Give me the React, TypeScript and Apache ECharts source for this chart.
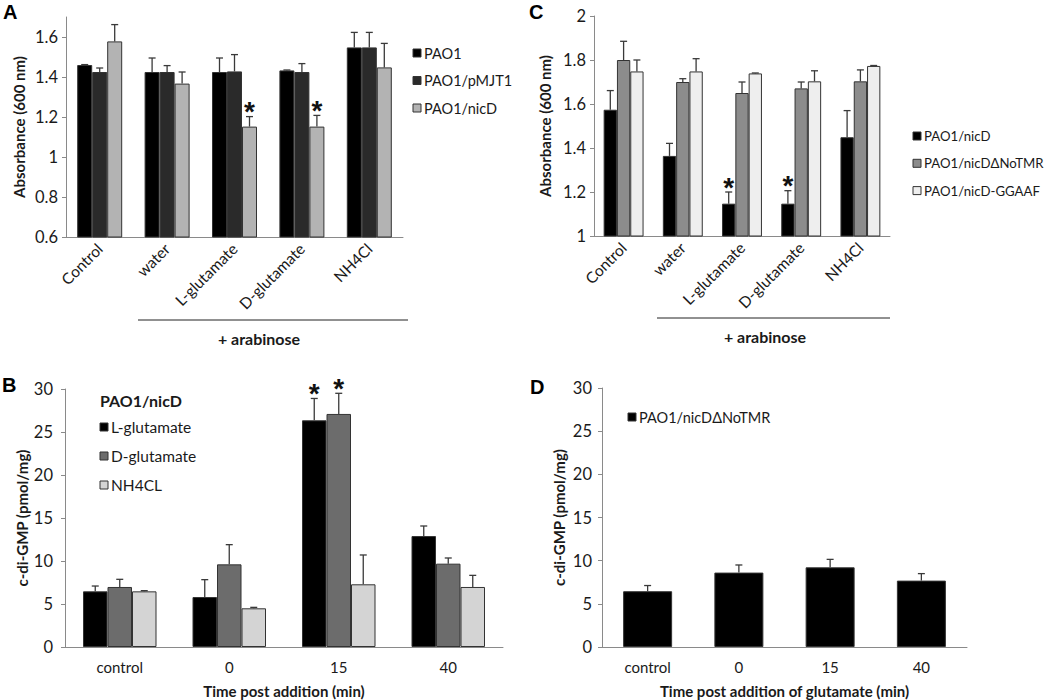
import React, { useEffect, useRef } from "react";
import * as echarts from "echarts";

// ---------- data ----------
const treatCats = ["Control", "water", "L-glutamate", "D-glutamate", "NH4Cl"];
const timeCats = ["control", "0", "15", "40"];

// Panel A
const namesA = ["PAO1", "PAO1/pMJT1", "PAO1/nicD"];
const aPAO1 = [1.46, 1.425, 1.425, 1.433, 1.548];
const aPAO1Err = [0.002, 0.07, 0.07, 0.002, 0.075];
const aPMJT1 = [1.425, 1.425, 1.428, 1.425, 1.548];
const aPMJT1Err = [0.02, 0.032, 0.084, 0.042, 0.075];
const aNicD = [1.578, 1.367, 1.152, 1.152, 1.448];
const aNicDErr = [0.084, 0.058, 0.05, 0.056, 0.12];
const aNicDSig = [0, 0, 1, 1, 0];
const aTicks = [0.6, 0.8, 1, 1.2, 1.4, 1.6];

// Panel C
const namesC = ["PAO1/nicD", "PAO1/nicDΔNoTMR", "PAO1/nicD-GGAAF"];
const cNicD = [1.574, 1.364, 1.147, 1.147, 1.449];
const cNicDErr = [0.087, 0.057, 0.053, 0.059, 0.121];
const cNicDSig = [0, 0, 1, 1, 0];
const cNoTMR = [1.8, 1.7, 1.65, 1.671, 1.703];
const cNoTMRErr = [0.085, 0.015, 0.05, 0.029, 0.052];
const cGGAAF = [1.748, 1.748, 1.739, 1.703, 1.773];
const cGGAAFErr = [0.052, 0.058, 0.002, 0.048, 0.002];

// Panel B
const legendTitleB = "PAO1/nicD";
const namesB = ["L-glutamate", "D-glutamate", "NH4CL"];
const bL = [6.47, 5.81, 26.36, 12.9];
const bLErr = [0.62, 2.02, 2.54, 1.17];
const bLSig = [0, 0, 1, 0];
const bD = [6.98, 9.61, 27.1, 9.69];
const bDErr = [0.89, 2.29, 2.4, 0.66];
const bDSig = [0, 0, 1, 0];
const bN = [6.47, 4.5, 7.29, 6.98];
const bNErr = [0.08, 0.11, 3.41, 1.35];

// Panel D
const namesD = ["PAO1/nicDΔNoTMR"];
const dNoTMR = [6.46, 8.62, 9.23, 7.69];
const dNoTMRErr = [0.66, 0.88, 0.92, 0.81];

// ---------- styles ----------
const FONT = 'Lato, "Open Sans", sans-serif';
const AXIS_COLOR = "#8a8a8a";
const TEXT_COLOR = "#1a1a1a";
const colorsA = ["#000000", "#2a2a2a", "#b3b3b3"];
const colorsC = ["#000000", "#8c8c8c", "#eeeeee"];
const colorsB = ["#000000", "#6c6c6c", "#d4d4d4"];
const colorsD = ["#000000"];

function barSeries(name: string, data: number[], color: string, g: number, bw: number) {
  return {
    type: "bar",
    name,
    data,
    xAxisIndex: g,
    yAxisIndex: g,
    barWidth: bw,
    barGap: "0%",
    silent: true,
    itemStyle: { color, borderColor: "#333", borderWidth: 1 },
  };
}

function errSeries(values: number[], errs: number[], sigs: number[] | null, idx: number, n: number, bw: number, g: number) {
  const offset = (idx - (n - 1) / 2) * bw;
  return {
    type: "custom",
    xAxisIndex: g,
    yAxisIndex: g,
    z: 5,
    silent: true,
    data: values.map((v, i) => [i, v, errs[i], sigs ? sigs[i] : 0]),
    encode: { x: 0, y: 1 },
    renderItem: (params: any, api: any) => {
      const i = api.value(0);
      const v = api.value(1);
      const e = api.value(2);
      const s = api.value(3);
      const p = api.coord([i, v]);
      const t = api.coord([i, v + e]);
      const cx = p[0] + offset;
      const st = { stroke: "#3a3a3a", lineWidth: 1.3 };
      const children: any[] = [
        { type: "line", shape: { x1: cx, y1: p[1], x2: cx, y2: t[1] }, style: st },
        { type: "line", shape: { x1: cx - 3.5, y1: t[1], x2: cx + 3.5, y2: t[1] }, style: st },
      ];
      if (s) {
        children.push({
          type: "text",
          x: cx,
          y: t[1] - 5,
          style: {
            text: "*",
            font: 'bold 28px "Liberation Sans"',
            fill: "#111",
            textAlign: "center",
            textVerticalAlign: "middle",
          },
        });
      }
      return { type: "group", children };
    },
  };
}

function legendGraphic(x: number, y0: number, pitch: number, names: string[], colors: string[], fs: number) {
  const out: any[] = [];
  names.forEach((nm, i) => {
    const y = y0 + i * pitch;
    out.push({
      type: "rect",
      shape: { x: x, y: y - 4, width: 8, height: 8 },
      style: { fill: colors[i], stroke: "#333", lineWidth: 1 },
    });
    out.push({
      type: "text",
      x: x + 11,
      y: y,
      style: { text: nm, font: `${fs}px ${FONT}`, fill: TEXT_COLOR, textVerticalAlign: "middle" },
    });
  });
  return out;
}

function catX(g: number, data: string[], rotated: boolean, name?: string) {
  return {
    type: "category",
    gridIndex: g,
    data,
    axisLine: { lineStyle: { color: AXIS_COLOR } },
    axisTick: { length: 5, lineStyle: { color: AXIS_COLOR } },
    axisLabel: rotated
      ? { rotate: 45, fontSize: 15.5, color: TEXT_COLOR, fontFamily: FONT, margin: 9, interval: 0 }
      : { fontSize: 15, color: TEXT_COLOR, fontFamily: FONT, margin: 12, interval: 0 },
    name: name || "",
    nameLocation: "middle",
    nameGap: 36,
    nameTextStyle: { fontWeight: "bold", fontSize: 15, fontFamily: FONT, color: TEXT_COLOR },
  };
}

function valY(g: number, min: number, max: number, interval: number, name: string, nameGap: number, extra: any = {}) {
  return {
    type: "value",
    gridIndex: g,
    min,
    max,
    interval,
    splitLine: { show: false },
    axisLine: { show: true, lineStyle: { color: AXIS_COLOR } },
    axisTick: { show: true, length: 4, lineStyle: { color: AXIS_COLOR }, ...(extra.tick || {}) },
    axisLabel: {
      fontSize: 16.5,
      color: TEXT_COLOR,
      fontFamily: FONT,
      margin: 8,
      formatter: (v: number) => String(Math.round(v * 10) / 10),
      ...(extra.label || {}),
    },
    name,
    nameLocation: "middle",
    nameGap,
    nameTextStyle: { fontWeight: "bold", fontSize: 15, fontFamily: FONT, color: TEXT_COLOR },
  };
}

export default function App() {
  const ref = useRef<HTMLDivElement>(null);
  useEffect(() => {
    if (!ref.current) return;
    const chart = echarts.init(ref.current, null, { renderer: "svg" });

    const bwA = 15, bwC = 13.3, bwB = 24.5, bwD = 49;
    const series: any[] = [];
    const aVals = [aPAO1, aPMJT1, aNicD];
    const aErrs = [aPAO1Err, aPMJT1Err, aNicDErr];
    const aSigs = [null, null, aNicDSig];
    aVals.forEach((v, i) => series.push(barSeries(namesA[i], v, colorsA[i], 0, bwA)));
    aVals.forEach((v, i) => series.push(errSeries(v, aErrs[i], aSigs[i], i, 3, bwA, 0)));

    const cVals = [cNicD, cNoTMR, cGGAAF];
    const cErrs = [cNicDErr, cNoTMRErr, cGGAAFErr];
    const cSigs = [cNicDSig, null, null];
    cVals.forEach((v, i) => series.push(barSeries(namesC[i], v, colorsC[i], 1, bwC)));
    cVals.forEach((v, i) => series.push(errSeries(v, cErrs[i], cSigs[i], i, 3, bwC, 1)));

    const bVals = [bL, bD, bN];
    const bErrs = [bLErr, bDErr, bNErr];
    const bSigs = [bLSig, bDSig, null];
    bVals.forEach((v, i) => series.push(barSeries(namesB[i], v, colorsB[i], 2, bwB)));
    bVals.forEach((v, i) => series.push(errSeries(v, bErrs[i], bSigs[i], i, 3, bwB, 2)));

    series.push(barSeries(namesD[0], dNoTMR, colorsD[0], 3, bwD));
    series.push(errSeries(dNoTMR, dNoTMRErr, null, 0, 1, bwD, 3));

    const letter = (t: string, x: number, y: number) => ({
      type: "text",
      x,
      y,
      style: { text: t, font: 'bold 20px "Liberation Sans"', fill: "#000", textVerticalAlign: "middle" },
    });
    const bold = (t: string, x: number, y: number) => ({
      type: "text",
      x,
      y,
      style: { text: t, font: `bold 16px ${FONT}`, fill: TEXT_COLOR, textAlign: "center", textVerticalAlign: "middle" },
    });
    const hline = (x1: number, x2: number, y: number) => ({
      type: "line",
      shape: { x1, y1: y, x2, y2: y },
      style: { stroke: "#222", lineWidth: 1 },
    });

    const graphic: any[] = [
      letter("A", 3, 12),
      letter("C", 529, 12),
      letter("B", 2, 385),
      letter("D", 530, 387),
      hline(138, 408, 320),
      bold("+ arabinose", 259, 338),
      hline(657, 890, 318),
      bold("+ arabinose", 765, 336),
      ...legendGraphic(413, 53, 27.5, namesA, colorsA, 14.5),
      ...legendGraphic(913, 136, 27.3, namesC, colorsC, 13.2),
      {
        type: "text",
        x: 100,
        y: 400,
        style: { text: legendTitleB, font: `bold 16px ${FONT}`, fill: TEXT_COLOR, textVerticalAlign: "middle" },
      },
      ...legendGraphic(100, 427, 29, namesB, colorsB, 15.5),
      ...legendGraphic(628, 417, 29, namesD, colorsD, 14.5),
    ];

    chart.setOption({
      animation: false,
      backgroundColor: "#ffffff",
      grid: [
        { left: 66, top: 17, width: 337, height: 220 },
        { left: 594, top: 16, width: 296, height: 220 },
        { left: 65, top: 389, width: 438, height: 258 },
        { left: 602, top: 388, width: 365, height: 259 },
      ],
      xAxis: [
        catX(0, treatCats, true),
        catX(1, treatCats, true),
        catX(2, timeCats, false, "Time post addition (min)"),
        catX(3, timeCats, false, "Time post addition of glutamate (min)"),
      ],
      yAxis: [
        valY(0, 0.6, 1.7, 0.2, "Absorbance (600 nm)", 40, {
          label: { customValues: aTicks },
          tick: { customValues: aTicks },
        }),
        valY(1, 1, 2, 0.2, "Absorbance (600 nm)", 42),
        valY(2, 0, 30, 5, "c-di-GMP (pmol/mg)", 32, { label: { margin: 12 } }),
        valY(3, 0, 30, 5, "c-di-GMP (pmol/mg)", 36, { label: { margin: 10 } }),
      ],
      series,
      graphic,
    });
    return () => chart.dispose();
  }, []);
  return <div ref={ref} style={{ position: "fixed", left: 0, top: 0, width: 1050, height: 700 }} />;
}
